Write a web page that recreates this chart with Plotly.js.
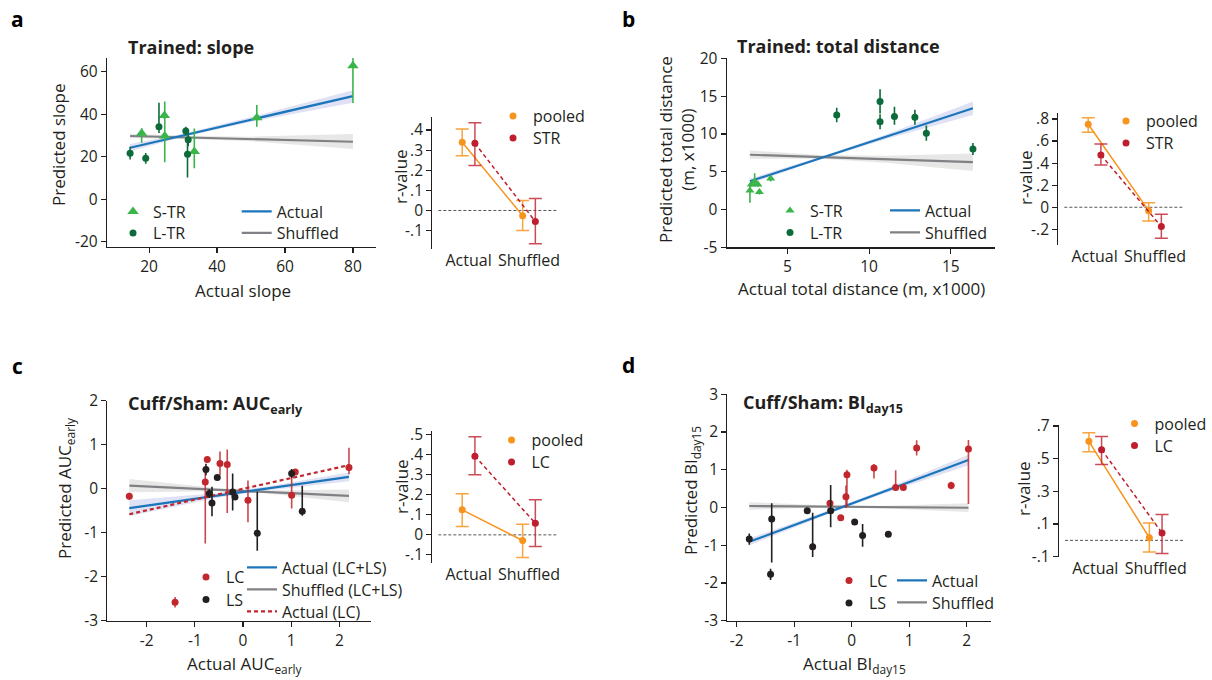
<!DOCTYPE html>
<html><head><meta charset="utf-8">
<script src="https://cdn.plot.ly/plotly-3.0.1.min.js"></script>
<style>html,body{margin:0;padding:0;background:#fff}#chart{width:1212px;height:680px}</style>
</head><body><div id="chart"></div>
<script>
// ================= DATA =================
// ---- Panel a : Trained: slope
const aSTRx  = [17.8, 24.6, 24.5, 33.3, 51.7, 80.0];
const aSTRy  = [31.0, 29.7, 39.3, 22.4, 38.3, 62.7];
const aSTRup = [2.3, 16.2, 1.5, 10.8, 6.0, 4.5];
const aSTRdn = [4.5, 12.3, 1.5, 7.9, 4.2, 17.5];
const aLTRx  = [14.4, 19.0, 22.9, 30.8, 31.5, 31.3];
const aLTRy  = [21.6, 19.2, 34.1, 32.1, 27.9, 21.1];
const aLTRup = [3.0, 2.5, 11.3, 2.0, 3.0, 7.1];
const aLTRdn = [3.0, 2.5, 3.0, 2.0, 3.0, 10.9];
const aFitX = [14.4, 80];
const aActualY = [24.2, 48.5];
const aShuffledY = [29.7, 27.0];
const aBandX = [14.4, 30, 50, 80];
const aActualLo = [22.5, 29.2, 36.4, 45.3];
const aActualHi = [25.9, 30.8, 38.6, 51.2];
const aShufLo = [28.6, 28.4, 27.2, 23.6];
const aShufHi = [30.8, 29.8, 29.4, 30.6];
const aXticks = [20, 40, 60, 80];
const aYticks = [-20, 0, 20, 40, 60];

// ---- Panel b : Trained: total distance
const bSTRx  = [2.71, 2.80, 3.00, 3.20, 3.29, 3.98];
const bSTRy  = [2.5, 3.3, 3.7, 3.3, 2.3, 4.1];
const bSTRup = [1.0, 0.3, 1.1, 0.3, 0.3, 0.4];
const bSTRdn = [1.6, 0.3, 0.6, 0.3, 0.3, 0.4];
const bLTRx  = [8.02, 10.67, 10.67, 11.55, 12.8, 13.5, 16.35];
const bLTRy  = [12.5, 14.3, 11.6, 12.3, 12.2, 10.1, 8.0];
const bLTRup = [0.95, 1.6, 1.0, 1.3, 1.0, 1.0, 0.8];
const bLTRdn = [0.95, 1.6, 1.0, 1.1, 1.0, 1.0, 0.8];
const bFitX = [2.71, 16.35];
const bActualY = [3.73, 13.4];
const bShuffledY = [7.24, 6.27];
const bBandX = [2.71, 7, 11, 16.35];
const bActualLo = [3.4, 6.6, 9.3, 12.5];
const bActualHi = [4.1, 6.95, 9.9, 14.3];
const bShufLo = [6.7, 6.7, 6.2, 5.1];
const bShufHi = [7.8, 7.2, 7.1, 7.4];
const bXticks = [5, 10, 15];
const bYticks = [-5, 0, 5, 10, 15, 20];

// ---- Panel c : Cuff/Sham: AUC early
const cLCx  = [-2.36, -1.41, -0.783, -0.742, -0.478, -0.327, 0.103, 1.01, 1.085, 2.2];
const cLCy  = [-0.17, -2.58, 0.154, 0.664, 0.573, 0.55, -0.264, -0.149, 0.382, 0.48];
const cLCup = [0.08, 0.12, 0.25, 0.05, 0.27, 0.34, 0.45, 0.45, 0.06, 0.45];
const cLCdn = [0.08, 0.12, 1.4, 0.05, 0.27, 1.1, 0.5, 0.3, 0.06, 0.15];
const cLSx  = [-0.769, -0.70, -0.644, -0.534, -0.215, -0.167, 0.296, 1.01, 1.23];
const cLSy  = [0.436, -0.111, -0.325, 0.254, -0.074, -0.188, -1.01, 0.345, -0.514];
const cLSup = [0.13, 0.1, 0.37, 0.05, 0.42, 0.07, 0.94, 0.1, 0.58];
const cLSdn = [0.13, 0.1, 0.3, 0.05, 0.42, 0.07, 0.40, 0.1, 0.1];
const cFitX = [-2.36, 2.2];
const cActualY = [-0.44, 0.27];
const cShuffledY = [0.071, -0.165];
const cActualLCY = [-0.58, 0.535];
const cBandX = [-2.36, -0.5, 0.5, 2.2];
const cActualLo = [-0.62, -0.20, -0.04, 0.17];
const cActualHi = [-0.26, -0.10, 0.05, 0.37];
const cShufLo = [-0.08, -0.06, -0.11, -0.31];
const cShufHi = [0.22, 0.01, -0.04, -0.02];
const cXticks = [-2, -1, 0, 1, 2];
const cYticks = [-3, -2, -1, 0, 1, 2];

// ---- Panel d : Cuff/Sham: BI day15
const dLCx  = [-0.377, -0.19, -0.099, -0.082, 0.388, 0.765, 0.898, 1.13, 1.73, 2.03];
const dLCy  = [0.11, -0.27, 0.285, 0.87, 1.05, 0.53, 0.53, 1.58, 0.585, 1.55];
const dLCup = [0.05, 0.04, 0.3, 0.13, 0.1, 0.46, 0.04, 0.2, 0.1, 0.24];
const dLCdn = [0.05, 0.04, 0.3, 0.85, 0.28, 0.07, 0.04, 0.2, 0.1, 1.46];
const dLSx  = [-1.78, -1.39, -1.41, -0.772, -0.678, -0.365, 0.052, 0.19, 0.637];
const dLSy  = [-0.836, -0.306, -1.77, -0.086, -1.04, -0.086, -0.386, -0.74, -0.71];
const dLSup = [0.15, 0.42, 0.15, 0.04, 0.9, 0.68, 0.04, 0.3, 0.04];
const dLSdn = [0.15, 1.15, 0.15, 0.04, 0.27, 0.44, 0.04, 0.3, 0.04];
const dFitX = [-1.78, 2.03];
const dActualY = [-0.91, 1.26];
const dShuffledY = [0.04, -0.006];
const dBandX = [-1.78, -0.5, 0.5, 2.03];
const dActualLo = [-1.0, -0.23, 0.34, 1.12];
const dActualHi = [-0.82, -0.13, 0.44, 1.40];
const dShufLo = [-0.06, 0.0, -0.02, -0.12];
const dShufHi = [0.14, 0.06, 0.04, 0.11];
const dXticks = [-2, -1, 0, 1, 2];
const dYticks = [-3, -2, -1, 0, 1, 2, 3];

// ---- r-value insets
const rCats = ['Actual', 'Shuffled'];
const aPooled = [0.339, -0.026], aPooledUp = [0.066, 0.075], aPooledDn = [0.067, 0.074];
const aGroup  = [0.334, -0.055], aGroupUp  = [0.102, 0.114], aGroupDn  = [0.110, 0.111];
const bPooled = [0.752, -0.031], bPooledUp = [0.060, 0.073], bPooledDn = [0.073, 0.093];
const bGroup  = [0.474, -0.175], bGroupUp  = [0.099, 0.112], bGroupDn  = [0.091, 0.106];
const cPooled = [0.125, -0.028], cPooledUp = [0.080, 0.081], cPooledDn = [0.083, 0.085];
const cGroup  = [0.393, 0.058],  cGroupUp  = [0.097, 0.117], cGroupDn  = [0.093, 0.116];
const dPooled = [0.606, 0.016],  dPooledUp = [0.053, 0.090], dPooledDn = [0.063, 0.087];
const dGroup  = [0.555, 0.045],  dGroupUp  = [0.080, 0.114], dGroupDn  = [0.090, 0.125];
const aRticks = [-0.1, 0, 0.1, 0.2, 0.3, 0.4], aRtickText = ['-.1', '0', '.1', '.2', '.3', '.4'];
const bRticks = [-0.2, 0, 0.2, 0.4, 0.6, 0.8], bRtickText = ['-.2', '0', '.2', '.4', '.6', '.8'];
const cRticks = [-0.1, 0, 0.1, 0.2, 0.3, 0.4, 0.5], cRtickText = ['-.1', '0', '.1', '.2', '.3', '.4', '.5'];
const dRticks = [-0.1, 0.1, 0.3, 0.5, 0.7], dRtickText = ['-.1', '.1', '.3', '.5', '.7'];

// ================= STYLE / LAYOUT =================
const W = 1212, H = 680;
const fx = p => p / W;
const fy = p => 1 - p / H;
const FONT = '"Open Sans", "Noto Sans", sans-serif';
const INK = '#231f20';
const BLUE = '#1b75bb', GREY = '#808184';
const BLUE_BAND = 'rgba(110,120,205,0.22)', GREY_BAND = 'rgba(160,160,160,0.25)';
const LIGHTG = '#39b54a', DARKG = '#0b6b3a';
const RED = '#c1272d', BLACK = '#231f20';
const ORANGE = '#f7941d', ORANGE_E = 'rgba(247,148,29,0.85)';
const DKRED = '#be1e2d', DKRED_E = 'rgba(190,30,45,0.8)';
const R_OFF = 0.105;
const TICK = 15.5, LEG = 16, AX = 17;

const id = (n, l) => n === 1 ? l : l + n;
const key = (n, l) => n === 1 ? l + 'axis' : l + 'axis' + n;
const hyph = v => String(v).replace('\u2212', '-');

const layout = {
  width: W, height: H, margin: {l: 0, r: 0, t: 0, b: 0},
  paper_bgcolor: '#fff', plot_bgcolor: 'rgba(0,0,0,0)',
  font: {family: FONT, size: 15, color: INK},
  showlegend: true, shapes: [], annotations: []
};
const traces = [];
let legN = 0;
function legendAt(textX, cy, off) {
  legN++;
  const k = legN === 1 ? 'legend' : 'legend' + legN;
  layout[k] = {x: fx(textX - off), y: fy(cy), xanchor: 'left', yanchor: 'middle',
    bgcolor: 'rgba(0,0,0,0)', borderwidth: 0, itemwidth: 30, tracegroupgap: 0,
    font: {family: FONT, size: LEG, color: INK}};
  return k;
}

function mainAxes(n, xpx, ypx, xr, yr, xt, yt) {
  const common = {showline: true, linecolor: INK, linewidth: 1.2, ticks: 'outside', ticklen: 5,
    tickwidth: 1.2, tickcolor: INK, showgrid: false, zeroline: false, tickmode: 'array',
    tickfont: {family: FONT, size: TICK, color: INK}, fixedrange: true};
  layout[key(n, 'x')] = Object.assign({}, common, {anchor: id(n, 'y'), domain: [fx(xpx[0]), fx(xpx[1])],
    range: xr, tickvals: xt, ticktext: xt.map(hyph)});
  layout[key(n, 'y')] = Object.assign({}, common, {anchor: id(n, 'x'), domain: [fy(ypx[1]), fy(ypx[0])],
    range: yr, tickvals: yt, ticktext: yt.map(hyph)});
}
function rAxes(n, xpx, ypx, yr, yt, ytt) {
  layout[key(n, 'x')] = {anchor: id(n, 'y'), domain: [fx(xpx[0]), fx(xpx[1])], range: [-0.6, 1.485],
    showline: false, ticks: '', showgrid: false, zeroline: false, tickmode: 'array',
    tickvals: rCats.map((c, i) => i), ticktext: rCats, tickfont: {family: FONT, size: 16, color: INK}, fixedrange: true};
  layout[key(n, 'y')] = {anchor: id(n, 'x'), domain: [fy(ypx[1]), fy(ypx[0])], range: yr,
    showline: true, linecolor: INK, linewidth: 1.2, ticks: 'outside', ticklen: 5, tickwidth: 1.2, tickcolor: INK,
    showgrid: false, zeroline: false, tickmode: 'array', tickvals: yt, ticktext: ytt,
    tickfont: {family: FONT, size: TICK, color: INK}, fixedrange: true};
  layout.shapes.push({type: 'line', xref: id(n, 'x'), yref: id(n, 'y'), x0: -0.5, x1: 1.485, y0: 0, y1: 0,
    line: {color: '#555', width: 1, dash: '3px,2px'}, layer: 'below'});
}

function band(n, bx, lo, hi, color) {
  traces.push({type: 'scatter', mode: 'lines', x: bx.concat(bx.slice().reverse()),
    y: hi.concat(lo.slice().reverse()), fill: 'toself', fillcolor: color, line: {width: 0},
    hoverinfo: 'skip', showlegend: false, xaxis: id(n, 'x'), yaxis: id(n, 'y')});
}
function fit(n, x, y, color, name, leg, dash) {
  traces.push({type: 'scatter', mode: 'lines', x: x, y: y, name: name, legend: leg,
    line: {color: color, width: 2.2, dash: dash || 'solid'}, hoverinfo: 'skip',
    xaxis: id(n, 'x'), yaxis: id(n, 'y')});
}
function pts(n, x, y, up, dn, color, ecolor, symbol, size, name, leg) {
  traces.push({type: 'scatter', mode: 'markers', x: x, y: y, name: name, legend: leg,
    marker: {color: color, size: size, symbol: symbol, line: {width: 0}},
    error_y: {type: 'data', symmetric: false, array: up, arrayminus: dn, color: ecolor, thickness: 1.6, width: 0},
    hoverinfo: 'skip', xaxis: id(n, 'x'), yaxis: id(n, 'y')});
}
function rSeries(n, vals, up, dn, off, color, ecolor, dash, name, leg) {
  const xs = rCats.map((c, i) => i + off);
  traces.push({type: 'scatter', mode: 'lines', x: xs, y: vals, showlegend: false, hoverinfo: 'skip',
    line: {color: color, width: 1.5, dash: dash}, xaxis: id(n, 'x'), yaxis: id(n, 'y')});
  traces.push({type: 'scatter', mode: 'markers', x: xs, y: vals, name: name, legend: leg, hoverinfo: 'skip',
    marker: {color: color, size: 7},
    error_y: {type: 'data', symmetric: false, array: up, arrayminus: dn, color: ecolor, thickness: 1.5, width: 6.5},
    xaxis: id(n, 'x'), yaxis: id(n, 'y')});
}
function ann(text, x, y, o) {
  layout.annotations.push(Object.assign({text: text, x: fx(x), y: fy(y), xref: 'paper', yref: 'paper',
    showarrow: false, xanchor: 'center', yanchor: 'middle', font: {family: FONT, size: AX, color: INK}}, o || {}));
}

// ---- Axes
mainAxes(1, [107, 375.7], [58, 247], [7.6, 86.7], [-22.5, 66.4], aXticks, aYticks);
rAxes(2, [432.3, 558.3], [116.7, 249.3], [-0.193, 0.466], aRticks, aRtickText);
mainAxes(3, [726.7, 995], [58.3, 247.3], [1.29, 17.7], [-5, 20], bXticks, bYticks);
rAxes(4, [1058.3, 1184.3], [112.7, 245], [-0.342, 0.857], bRticks, bRtickText);
mainAxes(5, [107.3, 371], [400.7, 620.7], [-2.817, 2.657], [-3, 2], cXticks, cYticks);
rAxes(6, [432.3, 558.3], [430.7, 563.3], [-0.142, 0.52], cRticks, cRtickText);
mainAxes(7, [727.3, 990.7], [394.3, 620.7], [-2.162, 2.417], [-3, 3], dXticks, dYticks);
rAxes(8, [1059, 1185], [425, 556.7], [-0.1, 0.706], dRticks, dRtickText);

// ---- Panel a
band(1, aBandX, aShufLo, aShufHi, GREY_BAND);
band(1, aBandX, aActualLo, aActualHi, BLUE_BAND);
fit(1, aFitX, aShuffledY, GREY, 'Shuffled', legendAt(276.7, 233, 40));
fit(1, aFitX, aActualY, BLUE, 'Actual', legendAt(276.7, 211.5, 40));
pts(1, aSTRx, aSTRy, aSTRup, aSTRdn, LIGHTG, LIGHTG, 'triangle-up', 10, 'S-TR', legendAt(148, 211.5, 35));
pts(1, aLTRx, aLTRy, aLTRup, aLTRdn, DARKG, DARKG, 'circle', 7, 'L-TR', legendAt(148, 233, 35));
rSeries(2, aPooled, aPooledUp, aPooledDn, -R_OFF, ORANGE, ORANGE_E, 'solid', 'pooled', legendAt(527, 116, 34));
rSeries(2, aGroup, aGroupUp, aGroupDn, R_OFF, DKRED, DKRED_E, '4px,3px', 'STR', legendAt(527, 138, 34));

// ---- Panel b
band(3, bBandX, bShufLo, bShufHi, GREY_BAND);
band(3, bBandX, bActualLo, bActualHi, BLUE_BAND);
fit(3, bFitX, bShuffledY, GREY, 'Shuffled', legendAt(925, 232.5, 40));
fit(3, bFitX, bActualY, BLUE, 'Actual', legendAt(925, 210.5, 40));
pts(3, bSTRx, bSTRy, bSTRup, bSTRdn, LIGHTG, LIGHTG, 'triangle-up', 8, 'S-TR', legendAt(805, 210.5, 35));
pts(3, bLTRx, bLTRy, bLTRup, bLTRdn, DARKG, DARKG, 'circle', 7, 'L-TR', legendAt(805, 232.5, 35));
rSeries(4, bPooled, bPooledUp, bPooledDn, -R_OFF, ORANGE, ORANGE_E, 'solid', 'pooled', legendAt(1140, 121, 34));
rSeries(4, bGroup, bGroupUp, bGroupDn, R_OFF, DKRED, DKRED_E, '4px,3px', 'STR', legendAt(1140, 143, 34));

// ---- Panel c
band(5, cBandX, cShufLo, cShufHi, GREY_BAND);
band(5, cBandX, cActualLo, cActualHi, BLUE_BAND);
fit(5, cFitX, cShuffledY, GREY, 'Shuffled (LC+LS)', legendAt(282, 589.5, 40));
fit(5, cFitX, cActualY, BLUE, 'Actual (LC+LS)', legendAt(282, 567.5, 40));
fit(5, cFitX, cActualLCY, RED, 'Actual (LC)', legendAt(282, 611.5, 40), '4px,3px');
pts(5, cLCx, cLCy, cLCup, cLCdn, RED, 'rgba(193,39,45,0.85)', 'circle', 7, 'LC', legendAt(219, 577, 33));
pts(5, cLSx, cLSy, cLSup, cLSdn, BLACK, BLACK, 'circle', 7, 'LS', legendAt(219, 599.5, 33));
rSeries(6, cPooled, cPooledUp, cPooledDn, -R_OFF, ORANGE, ORANGE_E, 'solid', 'pooled', legendAt(525.5, 440, 34));
rSeries(6, cGroup, cGroupUp, cGroupDn, R_OFF, DKRED, DKRED_E, '4px,3px', 'LC', legendAt(525.5, 462, 34));

// ---- Panel d
band(7, dBandX, dShufLo, dShufHi, GREY_BAND);
band(7, dBandX, dActualLo, dActualHi, BLUE_BAND);
fit(7, dFitX, dShuffledY, GREY, 'Shuffled', legendAt(932, 602.5, 40));
fit(7, dFitX, dActualY, BLUE, 'Actual', legendAt(932, 580.5, 40));
pts(7, dLCx, dLCy, dLCup, dLCdn, RED, 'rgba(193,39,45,0.85)', 'circle', 7, 'LC', legendAt(862, 580.5, 33));
pts(7, dLSx, dLSy, dLSup, dLSdn, BLACK, BLACK, 'circle', 7, 'LS', legendAt(862, 603, 33));
rSeries(8, dPooled, dPooledUp, dPooledDn, -R_OFF, ORANGE, ORANGE_E, 'solid', 'pooled', legendAt(1148.5, 423.5, 34));
rSeries(8, dGroup, dGroupUp, dGroupDn, R_OFF, DKRED, DKRED_E, '4px,3px', 'LC', legendAt(1148.5, 445.5, 34));

// ---- Text: panel letters, titles, axis titles
const LBL = {family: FONT, size: 21, color: '#000'};
ann('<b>a</b>', 17, 19, {font: LBL});
ann('<b>b</b>', 628, 19, {font: LBL});
ann('<b>c</b>', 17, 366, {font: LBL});
ann('<b>d</b>', 628, 365, {font: LBL});
const TT = {family: FONT, size: 18, color: INK};
ann('<b>Trained: slope</b>', 126, 47, {xanchor: 'left', font: TT});
ann('<b>Trained: total distance</b>', 735, 46, {xanchor: 'left', font: TT});
ann('<b>Cuff/Sham: AUC<sub>early</sub></b>', 126, 404, {xanchor: 'left', font: TT});
ann('<b>Cuff/Sham: BI<sub>day15</sub></b>', 741, 403, {xanchor: 'left', font: TT});

ann('Predicted slope', 58, 145, {textangle: -90});
ann('Actual slope', 243.3, 290);
ann('r-value', 401, 177, {textangle: -90});
ann('Predicted total distance<br>(m, x1000)', 676, 150, {textangle: -90});
ann('Actual total distance (m, x1000)', 861.7, 288.3);
ann('r-value', 1026, 178, {textangle: -90});
ann('Predicted AUC<sub>early</sub>', 65, 489, {textangle: -90});
ann('Actual AUC<sub>early</sub>', 244, 664);
ann('r-value', 401, 487, {textangle: -90});
ann('Predicted BI<sub>day15</sub>', 691, 491, {textangle: -90});
ann('Actual BI<sub>day15</sub>', 854, 664);
ann('r-value', 1023, 489, {textangle: -90});

Plotly.newPlot('chart', traces, layout, {displayModeBar: false, staticPlot: true});
</script>
</body></html>
